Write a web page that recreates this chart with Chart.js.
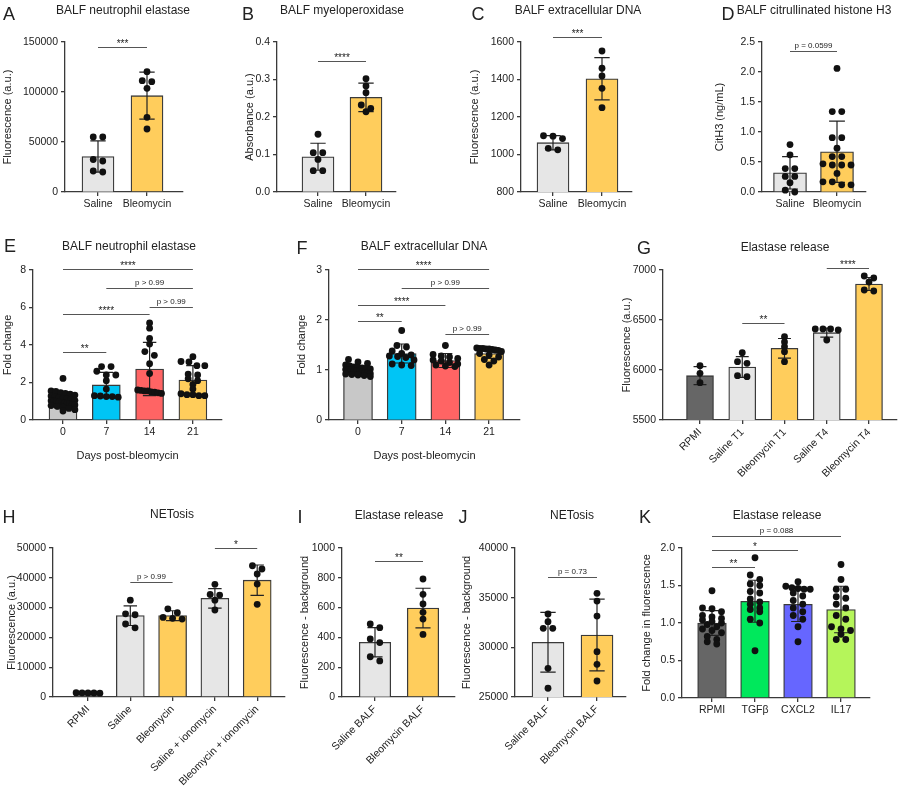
<!DOCTYPE html>
<html>
<head>
<meta charset="utf-8">
<script src="https://cdn.jsdelivr.net/npm/chart.js@4"></script>
<style>
  body { margin: 0; background: #fff; }
  #fig { position: relative; width: 900px; height: 789px; overflow: hidden; background: #fff;
         font-family: 'Liberation Sans', Arial, sans-serif; color: #222; }
  #fig canvas { position: absolute; }
  .txt { position: absolute; white-space: nowrap; transform: translate(-50%, -50%); line-height: 1; }
</style>
</head>
<body>
<div id="fig"></div>
<script>
// ---------- data ----------
const salBleo = ["Saline", "Bleomycin"];
const days = ["0", "7", "14", "21"];
const gLabels = ["RPMI", "Saline T1", "Bleomycin T1", "Saline T4", "Bleomycin T4"];
const hLabels = ["RPMI", "Saline", "Bleomycin", "Saline + ionomycin", "Bleomycin + ionomycin"];
const balfLabels = ["Saline BALF", "Bleomycin BALF"];
const kLabels = ["RPMI", "TGFβ", "CXCL2", "IL17"];

// A  BALF neutrophil elastase
const aMean = [35500, 96300];
const aSD = [15700, 23500];
const aPts = [[55000, 55000, 32500, 31000, 21000, 20000], [120300, 111300, 110300, 103700, 74700, 63000]];
const aSig = [[0, 1, 145300, "***"]];

// B  BALF myeloperoxidase
const bMean = [0.094, 0.2525];
const bSD = [0.036, 0.038];
const bPts = [[0.154, 0.105, 0.105, 0.087, 0.057, 0.057], [0.302, 0.283, 0.265, 0.232, 0.223, 0.214]];
const bSig = [[0, 1, 0.349, "****"]];

// C  BALF extracellular DNA
const cMean = [1063, 1404];
const cSD = [38, 113];
const cPts = [[1100, 1098, 1085, 1033, 1025], [1552, 1460, 1419, 1353, 1250]];
const cSig = [[0, 1, 1628, "***"]];

// D  BALF citrullinated histone H3
const dMean = [0.32, 0.67];
const dSD = [0.27, 0.51];
const dPts = [[0.79, 0.62, 0.39, 0.39, 0.26, 0.26, 0.155, 0.03, 0.0],
              [2.06, 1.34, 1.34, 0.905, 0.905, 0.73, 0.59, 0.59, 0.47, 0.45, 0.45, 0.45, 0.31, 0.17, 0.17, 0.12, 0.12]];
const dSig = [[0, 1, 2.355, "p = 0.0599"]];

// E  BALF neutrophil elastase, time course
const eMean = [0.98, 1.87, 2.72, 2.13];
const eSD = [0.39, 0.67, 1.42, 0.77];
const ePts = [[2.22, 1.55, 1.52, 1.46, 1.42, 1.38, 1.33, 1.28, 1.24, 1.2, 1.15, 1.12, 1.08, 1.05, 1.03, 1.0, 0.98, 0.96, 0.93, 0.9, 0.88, 0.85, 0.82, 0.8, 0.77, 0.73, 0.68, 0.62, 0.55, 0.48],
              [2.85, 2.85, 2.6, 2.4, 2.4, 2.1, 1.65, 1.3, 1.28, 1.25, 1.25, 1.22],
              [5.18, 4.9, 4.35, 4.05, 3.65, 3.45, 3.0, 2.48, 1.6, 1.58, 1.55, 1.55, 1.5, 1.48, 1.45, 1.42],
              [3.38, 3.12, 3.1, 2.9, 2.9, 2.45, 2.4, 2.2, 2.1, 1.9, 1.65, 1.4, 1.35, 1.35, 1.3, 1.3]];
const eSig = [[0, 3, 8.05, "****"], [1, 3, 7.06, "p > 0.99"], [2, 3, 6.04, "p > 0.99"], [0, 2, 5.64, "****"], [0, 1, 3.64, "**"]];

// F  BALF extracellular DNA, time course
const fMean = [1.01, 1.33, 1.19, 1.33];
const fSD = [0.07, 0.19, 0.14, 0.1];
const fPts = [[1.21, 1.16, 1.13, 1.1, 1.08, 1.06, 1.05, 1.04, 1.03, 1.02, 1.01, 1.0, 1.0, 0.99, 0.98, 0.97, 0.96, 0.95, 0.94, 0.93, 0.92, 0.91, 0.9, 0.89, 0.87],
              [1.79, 1.49, 1.46, 1.38, 1.33, 1.3, 1.28, 1.27, 1.25, 1.2, 1.12, 1.1, 1.09],
              [1.49, 1.31, 1.28, 1.26, 1.23, 1.2, 1.18, 1.15, 1.12, 1.1, 1.08, 1.07],
              [1.44, 1.43, 1.43, 1.42, 1.42, 1.41, 1.4, 1.39, 1.37, 1.33, 1.3, 1.26, 1.21, 1.18, 1.1]];
const fSig = [[0, 3, 3.03, "****"], [1, 3, 2.65, "p > 0.99"], [0, 2, 2.3, "****"], [0, 1, 1.98, "**"], [2, 3, 1.73, "p > 0.99"]];

// G  Elastase release
const gMean = [5943, 6030, 6217, 6373, 6860];
const gSD = [90, 103, 98, 45, 65];
const gPts = [[6043, 5967, 5873], [6173, 6067, 6083, 5943, 5933], [6333, 6280, 6233, 6183, 6083],
              [6410, 6410, 6410, 6400, 6300], [6940, 6920, 6880, 6790, 6800]];
const gSig = [[1, 2, 6473, "**"], [3, 4, 7017, "****"]];

// H  NETosis
const hMean = [1400, 27300, 27300, 33100, 39200];
const hSD = [150, 3300, 1650, 3300, 5100];
const hPts = [[1400, 1350, 1380, 1420, 1300], [32500, 27900, 27600, 24500, 23200], [29600, 28300, 26150, 26400, 26700],
              [37800, 34400, 34200, 32500, 29200], [44050, 42950, 41270, 37900, 31100]];
const hSig = [[1, 2, 38500, "p > 0.99"], [3, 4, 50100, "*"]];

// I  Elastase release (BALF)
const iMean = [367, 597];
const iSD = [98, 133];
const iPts = [[490, 465, 390, 365, 270, 242], [792, 689, 624, 568, 523, 420]];
const iSig = [[0, 1, 915, "**"]];

// J  NETosis (BALF)
const jMean = [30510, 31240];
const jSD = [3000, 3620];
const jPts = [[33360, 32580, 31910, 31910, 27890, 25880], [35440, 34660, 33150, 29560, 28290, 26610]];
const jSig = [[0, 1, 37110, "p = 0.73"]];

// K  Elastase release, stimuli
const kMean = [1.0, 1.29, 1.25, 1.18];
const kSD = [0.166, 0.28, 0.23, 0.31];
const kPts = [[1.43, 1.2, 1.19, 1.15, 1.1, 1.08, 1.06, 1.04, 1.02, 1.0, 0.98, 0.95, 0.92, 0.9, 0.87, 0.82, 0.78, 0.75, 0.72],
              [1.87, 1.64, 1.58, 1.52, 1.5, 1.42, 1.4, 1.32, 1.28, 1.25, 1.2, 1.18, 1.15, 1.05, 1.0, 0.63],
              [1.55, 1.49, 1.47, 1.46, 1.45, 1.45, 1.4, 1.36, 1.3, 1.25, 1.2, 1.15, 1.1, 1.05, 0.95, 0.75],
              [1.78, 1.58, 1.45, 1.45, 1.35, 1.33, 1.25, 1.2, 1.1, 1.05, 0.95, 0.92, 0.9, 0.85, 0.78, 0.78]];
const kSig = [[0, 1, 1.75, "**"], [0, 2, 1.97, "*"], [0, 3, 2.16, "p = 0.088"]];

// ---------- colours ----------
const GREY = '#e6e6e6', YEL = '#ffcd5c', DARK = '#666666';
const INK = '#222', AXIS = '#3a3a3a';

Chart.defaults.font.family = "'Liberation Sans', Arial, sans-serif";
Chart.defaults.color = INK;
const fig = document.getElementById('fig');

function text(str, x, y, size) {
  const d = document.createElement('div');
  d.className = 'txt';
  d.textContent = str;
  d.style.left = x + 'px';
  d.style.top = y + 'px';
  d.style.fontSize = size + 'px';
  fig.appendChild(d);
}

// GraphPad-like scatter: points of similar value are put in a row, centred on the bar
function swarm(vals, pxPerUnit, gap, barW) {
  const idx = vals.map((v, i) => i).sort((a, b) => vals[b] - vals[a]);
  const off = vals.map(() => 0);
  const rows = [];
  idx.forEach(i => {
    const y = vals[i] * pxPerUnit;
    const row = rows[rows.length - 1];
    if (row && row.y0 - y < 4.5) row.items.push(i);
    else rows.push({ y0: y, items: [i] });
  });
  rows.forEach(r => {
    const n = r.items.length;
    const sp = n > 1 ? Math.min(9.5, barW * 0.85 / (n - 1)) : 0;
    r.items.forEach((i, k) => { off[i] = (k - (n - 1) / 2) * sp / gap; });
  });
  return off;
}

// error bars (mean +/- SD) under the dots, significance lines on top
function gpPlugin(p) {
  return {
    id: 'gp',
    beforeDatasetDraw(chart, args) {
      if (args.index !== 1) return;
      const ctx = chart.ctx, xs = chart.scales.x, ys = chart.scales.y;
      const cap = p.barW * 0.24;
      ctx.save();
      ctx.strokeStyle = INK;
      ctx.lineWidth = 1.2;
      p.mean.forEach((m, i) => {
        const x = xs.getPixelForValue(i);
        const y1 = ys.getPixelForValue(m + p.sd[i]);
        const y2 = ys.getPixelForValue(m - p.sd[i]);
        ctx.beginPath();
        ctx.moveTo(x, y1); ctx.lineTo(x, y2);
        ctx.moveTo(x - cap, y1); ctx.lineTo(x + cap, y1);
        ctx.moveTo(x - cap, y2); ctx.lineTo(x + cap, y2);
        ctx.stroke();
      });
      ctx.restore();
    },
    afterDraw(chart) {
      const ctx = chart.ctx, xs = chart.scales.x, ys = chart.scales.y;
      ctx.save();
      ctx.strokeStyle = '#555';
      ctx.fillStyle = INK;
      ctx.lineWidth = 1.1;
      ctx.textAlign = 'center';
      p.sig.forEach(([a, b, v, label]) => {
        const x1 = xs.getPixelForValue(a), x2 = xs.getPixelForValue(b);
        const y = Math.round(ys.getPixelForValue(v)) + 0.5;
        ctx.beginPath();
        ctx.moveTo(x1, y); ctx.lineTo(x2, y);
        ctx.stroke();
        const stars = label.indexOf('p') < 0;
        ctx.font = (stars ? '10px' : '8px') + " 'Liberation Sans', Arial, sans-serif";
        ctx.textBaseline = 'alphabetic';
        ctx.fillText(label, (x1 + x2) / 2, stars ? y - 1 : y - 4);
      });
      ctx.restore();
    }
  };
}

function panel(p) {
  const n = p.labels.length;
  const padTop = 45, padRight = 14;
  const cLeft = p.ylabX - 7, cTop = p.t - padTop;
  const yW = p.l - cLeft;
  const cv = document.createElement('canvas');
  cv.width = Math.round(p.r - cLeft + padRight);
  cv.height = Math.round(padTop + (p.b - p.t) + p.xH);
  cv.style.left = cLeft + 'px';
  cv.style.top = cTop + 'px';
  fig.appendChild(cv);

  const pxPerUnit = (p.b - p.t) / (p.yMax - p.yMin);
  const dots = [];
  p.pts.forEach((vals, i) => {
    const off = swarm(vals, pxPerUnit, p.gap, p.barW);
    vals.forEach((v, k) => dots.push({ x: i + off[k], y: v }));
  });
  const xMin = -(p.x0 - p.l) / p.gap;
  const xMax = (n - 1) + (p.r - p.x0 - (n - 1) * p.gap) / p.gap;
  const axisLine = { color: AXIS, width: 1.3 };

  new Chart(cv, {
    type: 'bar',
    data: {
      datasets: [
        { type: 'bar', order: 2, data: p.mean.map((m, i) => ({ x: i, y: m })),
          backgroundColor: p.colors, borderColor: AXIS, borderWidth: 1.3, barThickness: p.barW },
        { type: 'scatter', order: 1, data: dots, showLine: false, clip: false,
          pointRadius: 3.4, pointBackgroundColor: '#111', pointBorderWidth: 0 }
      ]
    },
    options: {
      responsive: false,
      animation: false,
      events: [],
      layout: { padding: { top: padTop, right: padRight, left: 0, bottom: 0 } },
      plugins: { legend: { display: false }, tooltip: { enabled: false } },
      scales: {
        x: {
          type: 'linear', min: xMin, max: xMax, offset: false,
          afterBuildTicks: s => { s.ticks = p.labels.map((_, i) => ({ value: i })); },
          afterFit: s => { s.height = p.xH; },
          ticks: { callback: v => p.labels[v], autoSkip: false, minRotation: p.rot, maxRotation: p.rot,
                   font: { size: 10.5 }, color: INK, padding: 2 },
          grid: { offset: false, drawOnChartArea: false, tickLength: 4, color: AXIS, lineWidth: 1.3 },
          border: axisLine,
          title: p.xTitle ? { display: true, text: p.xTitle, font: { size: 11 }, padding: 0, color: INK } : { display: false }
        },
        y: {
          min: p.yMin, max: p.yMax,
          afterFit: s => { s.width = yW; },
          ticks: { stepSize: p.step, callback: v => v.toFixed(p.dec), font: { size: 10.5 }, color: INK, padding: 3 },
          grid: { drawOnChartArea: false, tickLength: 4, color: AXIS, lineWidth: 1.3 },
          border: axisLine,
          title: { display: true, text: p.yTitle, font: { size: 11 }, padding: 0, color: INK }
        }
      }
    },
    plugins: [gpPlugin(p)]
  });

  text(p.letter, p.letterX, p.letterY, 18);
  text(p.title, p.titleX, p.titleY, 12);
}

const rowA = { t: 42, b: 192, xH: 40, rot: 0, dec: 0 };
const rowB = { t: 270, b: 420, rot: 0, dec: 0 };
const rowC = { t: 548, b: 697, xH: 100, rot: 45, dec: 0 };

panel(Object.assign({}, rowA, {
  letter: 'A', letterX: 9, letterY: 14, title: 'BALF neutrophil elastase', titleX: 123, titleY: 10,
  labels: salBleo, mean: aMean, sd: aSD, pts: aPts, sig: aSig, colors: [GREY, YEL],
  l: 65, r: 183, x0: 98, gap: 49, barW: 32, ylabX: 8,
  yMin: 0, yMax: 150000, step: 50000, yTitle: 'Fluorescence (a.u.)'
}));
panel(Object.assign({}, rowA, {
  letter: 'B', letterX: 248, letterY: 14, title: 'BALF myeloperoxidase', titleX: 342, titleY: 10,
  labels: salBleo, mean: bMean, sd: bSD, pts: bPts, sig: bSig, colors: [GREY, YEL],
  l: 277, r: 396, x0: 318, gap: 48, barW: 32, ylabX: 250,
  yMin: 0, yMax: 0.4, step: 0.1, dec: 1, yTitle: 'Absorbance (a.u.)'
}));
panel(Object.assign({}, rowA, {
  letter: 'C', letterX: 478, letterY: 14, title: 'BALF extracellular DNA', titleX: 578, titleY: 10,
  labels: salBleo, mean: cMean, sd: cSD, pts: cPts, sig: cSig, colors: [GREY, YEL],
  l: 521, r: 632, x0: 553, gap: 49, barW: 32, ylabX: 475,
  yMin: 800, yMax: 1600, step: 200, yTitle: 'Fluorescence (a.u.)'
}));
panel(Object.assign({}, rowA, {
  letter: 'D', letterX: 728, letterY: 14, title: 'BALF citrullinated histone H3', titleX: 814, titleY: 10,
  labels: salBleo, mean: dMean, sd: dSD, pts: dPts, sig: dSig, colors: [GREY, YEL],
  l: 762, r: 866, x0: 790, gap: 47, barW: 33, ylabX: 720,
  yMin: 0, yMax: 2.5, step: 0.5, dec: 1, yTitle: 'CitH3 (ng/mL)'
}));

panel(Object.assign({}, rowB, {
  letter: 'E', letterX: 10, letterY: 246, title: 'BALF neutrophil elastase', titleX: 129, titleY: 246,
  labels: days, mean: eMean, sd: eSD, pts: ePts, sig: eSig, colors: ['#c8c8c8', '#00c5f5', '#ff6464', YEL],
  l: 33, r: 222, x0: 63, gap: 43.3, barW: 28, ylabX: 8, xH: 43, xTitle: 'Days post-bleomycin',
  yMin: 0, yMax: 8, step: 2, yTitle: 'Fold change'
}));
panel(Object.assign({}, rowB, {
  letter: 'F', letterX: 302, letterY: 248, title: 'BALF extracellular DNA', titleX: 424, titleY: 246,
  labels: days, mean: fMean, sd: fSD, pts: fPts, sig: fSig, colors: ['#c8c8c8', '#00c5f5', '#ff6464', YEL],
  l: 329, r: 520, x0: 358, gap: 43.7, barW: 29, ylabX: 302, xH: 43, xTitle: 'Days post-bleomycin',
  yMin: 0, yMax: 3, step: 1, yTitle: 'Fold change'
}));
panel(Object.assign({}, rowB, {
  letter: 'G', letterX: 644, letterY: 248, title: 'Elastase release', titleX: 785, titleY: 247,
  labels: gLabels, mean: gMean, sd: gSD, pts: gPts, sig: gSig, colors: [DARK, GREY, YEL, GREY, YEL],
  l: 663, r: 897, x0: 700, gap: 42.25, barW: 27, ylabX: 627, xH: 75, rot: 45,
  yMin: 5500, yMax: 7000, step: 500, yTitle: 'Fluorescence (a.u.)'
}));

panel(Object.assign({}, rowC, {
  letter: 'H', letterX: 9, letterY: 517, title: 'NETosis', titleX: 172, titleY: 514,
  labels: hLabels, mean: hMean, sd: hSD, pts: hPts, sig: hSig, colors: [DARK, GREY, YEL, GREY, YEL],
  l: 53, r: 285, x0: 88, gap: 42.3, barW: 28, ylabX: 12,
  yMin: 0, yMax: 50000, step: 10000, yTitle: 'Fluorescence (a.u.)'
}));
panel(Object.assign({}, rowC, {
  letter: 'I', letterX: 300, letterY: 517, title: 'Elastase release', titleX: 399, titleY: 515,
  labels: balfLabels, mean: iMean, sd: iSD, pts: iPts, sig: iSig, colors: [GREY, YEL],
  l: 342, r: 455, x0: 375, gap: 48, barW: 31.5, ylabX: 305,
  yMin: 0, yMax: 1000, step: 200, yTitle: 'Fluorescence - background'
}));
panel(Object.assign({}, rowC, {
  letter: 'J', letterX: 463, letterY: 517, title: 'NETosis', titleX: 572, titleY: 515,
  labels: balfLabels, mean: jMean, sd: jSD, pts: jPts, sig: jSig, colors: [GREY, YEL],
  l: 515, r: 626, x0: 548, gap: 49, barW: 32, ylabX: 467,
  yMin: 25000, yMax: 40000, step: 5000, yTitle: 'Fluorescence - background'
}));
panel(Object.assign({}, rowC, {
  letter: 'K', letterX: 645, letterY: 517, title: 'Elastase release', titleX: 777, titleY: 515,
  labels: kLabels, mean: kMean, sd: kSD, pts: kPts, sig: kSig, colors: [DARK, '#00e85c', '#6666ff', '#b5f55a'],
  l: 682, r: 870, b: 698, x0: 712, gap: 43, barW: 28.7, ylabX: 647, xH: 40, rot: 0, dec: 1,
  yMin: 0, yMax: 2, step: 0.5, yTitle: 'Fold change in fluorescence'
}));
</script>
</body>
</html>
